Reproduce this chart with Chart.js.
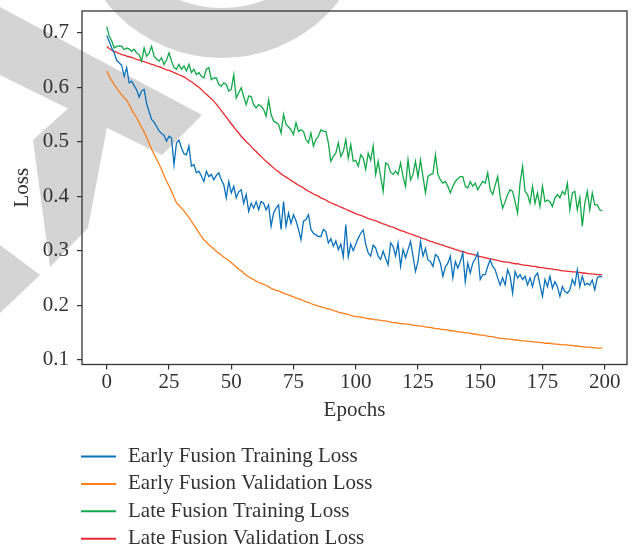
<!DOCTYPE html>
<html>
<head>
<meta charset="utf-8">
<script src="https://cdn.jsdelivr.net/npm/chart.js@4.4.1/dist/chart.umd.min.js"></script>
<style>
  html, body { margin: 0; padding: 0; background: #fff; }
  #wrap { position: relative; width: 635px; height: 545px; overflow: hidden; }
  #mark, #chart { position: absolute; left: 0; top: 0; }
</style>
</head>
<body>
<div id="wrap">
  <!-- grey watermark behind the chart -->
  <svg id="mark" width="635" height="545">
    <path fill="#d4d4d4" fill-rule="evenodd"
      d="M74 -90 a148 148 0 1 0 296 0 a148 148 0 1 0 -296 0 Z
         M104 -110 a118 118 0 1 0 236 0 a118 118 0 1 0 -236 0 Z"/>
    <polygon fill="#d4d4d4" points="0,7 202,115 162,155 0,75"/>
    <polygon fill="#d4d4d4" points="33,140 72,105 107,127 88,228 50,267"/>
    <polygon fill="#d4d4d4" points="0,245 40,275 0,313"/>
  </svg>
  <canvas id="chart" width="635" height="545"></canvas>
</div>
<script>
const epochs = Array.from({ length: 200 }, (_, i) => i);
const xTicks = [0, 25, 50, 75, 100, 125, 150, 175, 200];
const yTicks = [0.1, 0.2, 0.3, 0.4, 0.5, 0.6, 0.7];

const seriesNames = [
  'Early Fusion Training Loss',
  'Early Fusion Validation Loss',
  'Late Fusion Training Loss',
  'Late Fusion Validation Loss'
];

const earlyTrain = [
  0.695,0.684,0.672,0.663,0.649,0.645,0.640,0.620,0.636,0.608,
  0.611,0.603,0.595,0.582,0.593,0.596,0.570,0.555,0.541,0.536,
  0.528,0.520,0.515,0.512,0.501,0.510,0.507,0.458,0.498,0.503,
  0.489,0.478,0.476,0.492,0.455,0.458,0.443,0.446,0.437,0.427,
  0.446,0.436,0.440,0.430,0.438,0.443,0.430,0.421,0.397,0.427,
  0.406,0.418,0.397,0.408,0.412,0.387,0.403,0.372,0.387,0.378,
  0.390,0.375,0.390,0.387,0.375,0.384,0.345,0.369,0.378,0.384,
  0.339,0.390,0.345,0.369,0.350,0.366,0.355,0.339,0.320,0.354,
  0.357,0.366,0.339,0.332,0.329,0.326,0.326,0.339,0.335,0.314,
  0.322,0.308,0.318,0.302,0.312,0.289,0.348,0.289,0.312,0.300,
  0.312,0.323,0.332,0.338,0.312,0.296,0.290,0.310,0.305,0.290,
  0.284,0.299,0.286,0.274,0.314,0.308,0.290,0.314,0.271,0.302,
  0.287,0.302,0.317,0.290,0.262,0.280,0.317,0.290,0.304,0.283,
  0.280,0.271,0.293,0.289,0.277,0.253,0.270,0.277,0.290,0.250,
  0.280,0.268,0.280,0.296,0.243,0.277,0.259,0.277,0.285,0.296,
  0.247,0.256,0.256,0.271,0.283,0.271,0.265,0.250,0.237,0.250,
  0.237,0.265,0.253,0.222,0.262,0.250,0.256,0.247,0.253,0.237,
  0.250,0.234,0.253,0.259,0.237,0.216,0.247,0.234,0.253,0.231,
  0.243,0.234,0.216,0.234,0.225,0.222,0.228,0.247,0.237,0.265,
  0.234,0.253,0.237,0.240,0.237,0.246,0.228,0.250,0.253,0.252
];

const earlyVal = [
  0.630,0.620,0.612,0.605,0.598,0.592,0.586,0.581,0.576,0.568,
  0.559,0.551,0.544,0.535,0.526,0.518,0.508,0.497,0.486,0.477,
  0.468,0.459,0.449,0.438,0.428,0.419,0.409,0.398,0.388,0.383,
  0.378,0.373,0.367,0.361,0.354,0.347,0.340,0.333,0.326,0.320,
  0.316,0.311,0.307,0.303,0.299,0.295,0.292,0.288,0.285,0.282,
  0.278,0.274,0.270,0.266,0.263,0.259,0.255,0.252,0.249,0.247,
  0.244,0.242,0.240,0.238,0.236,0.234,0.231,0.229,0.227,0.226,
  0.224,0.222,0.220,0.219,0.217,0.215,0.213,0.212,0.210,0.208,
  0.206,0.205,0.203,0.201,0.200,0.198,0.197,0.196,0.194,0.193,
  0.192,0.190,0.189,0.187,0.186,0.185,0.184,0.183,0.181,0.180,
  0.179,0.179,0.178,0.177,0.176,0.175,0.175,0.174,0.173,0.173,
  0.172,0.171,0.171,0.170,0.169,0.168,0.168,0.167,0.166,0.166,
  0.165,0.165,0.164,0.163,0.163,0.162,0.162,0.161,0.160,0.159,
  0.159,0.158,0.157,0.157,0.156,0.155,0.155,0.154,0.153,0.153,
  0.152,0.151,0.151,0.150,0.149,0.149,0.148,0.147,0.147,0.146,
  0.145,0.145,0.144,0.143,0.142,0.142,0.141,0.140,0.139,0.139,
  0.138,0.138,0.137,0.137,0.136,0.136,0.135,0.135,0.134,0.134,
  0.133,0.133,0.132,0.132,0.131,0.131,0.130,0.130,0.130,0.129,
  0.129,0.128,0.128,0.127,0.127,0.127,0.126,0.126,0.125,0.125,
  0.124,0.124,0.123,0.123,0.123,0.122,0.122,0.121,0.121,0.121
];

const lateTrain = [
  0.711,0.694,0.685,0.672,0.675,0.676,0.675,0.669,0.672,0.670,
  0.666,0.670,0.663,0.660,0.648,0.672,0.657,0.662,0.675,0.657,
  0.652,0.648,0.654,0.642,0.650,0.663,0.648,0.636,0.633,0.642,
  0.633,0.639,0.630,0.642,0.627,0.633,0.623,0.627,0.620,0.617,
  0.633,0.636,0.614,0.617,0.617,0.605,0.602,0.608,0.605,0.593,
  0.596,0.623,0.580,0.590,0.599,0.583,0.568,0.584,0.583,0.568,
  0.562,0.568,0.565,0.559,0.547,0.577,0.550,0.538,0.535,0.532,
  0.516,0.550,0.532,0.527,0.522,0.513,0.535,0.519,0.522,0.519,
  0.504,0.498,0.516,0.492,0.504,0.510,0.522,0.519,0.519,0.498,
  0.464,0.473,0.479,0.498,0.473,0.482,0.504,0.470,0.495,0.464,
  0.466,0.455,0.476,0.470,0.449,0.479,0.466,0.492,0.440,0.464,
  0.436,0.409,0.461,0.458,0.444,0.440,0.446,0.440,0.461,0.436,
  0.418,0.467,0.430,0.440,0.464,0.435,0.467,0.436,0.406,0.436,
  0.440,0.441,0.476,0.440,0.430,0.424,0.427,0.418,0.406,0.418,
  0.427,0.432,0.436,0.436,0.418,0.415,0.427,0.418,0.424,0.412,
  0.420,0.427,0.424,0.443,0.412,0.403,0.420,0.436,0.400,0.378,
  0.390,0.403,0.412,0.409,0.390,0.369,0.424,0.455,0.409,0.403,
  0.387,0.418,0.387,0.406,0.381,0.418,0.390,0.393,0.390,0.381,
  0.397,0.403,0.397,0.409,0.403,0.424,0.375,0.406,0.409,0.375,
  0.397,0.345,0.387,0.409,0.375,0.406,0.384,0.384,0.375,0.373
];

const lateVal = [
  0.675,0.671,0.668,0.666,0.664,0.662,0.660,0.659,0.657,0.656,
  0.655,0.653,0.651,0.650,0.648,0.647,0.645,0.644,0.642,0.641,
  0.639,0.638,0.636,0.634,0.632,0.631,0.629,0.627,0.625,0.623,
  0.621,0.619,0.616,0.613,0.610,0.607,0.603,0.600,0.596,0.591,
  0.587,0.583,0.579,0.574,0.569,0.563,0.557,0.551,0.545,0.539,
  0.533,0.527,0.521,0.516,0.510,0.505,0.500,0.496,0.491,0.486,
  0.482,0.477,0.473,0.468,0.464,0.460,0.456,0.452,0.448,0.445,
  0.441,0.438,0.435,0.432,0.429,0.426,0.423,0.420,0.418,0.415,
  0.412,0.409,0.407,0.404,0.402,0.400,0.397,0.395,0.393,0.390,
  0.388,0.386,0.384,0.382,0.380,0.378,0.376,0.374,0.372,0.370,
  0.368,0.366,0.365,0.363,0.361,0.359,0.358,0.356,0.355,0.353,
  0.351,0.349,0.348,0.346,0.344,0.343,0.341,0.339,0.337,0.336,
  0.334,0.332,0.331,0.329,0.327,0.326,0.324,0.322,0.321,0.319,
  0.317,0.316,0.314,0.313,0.311,0.310,0.308,0.307,0.305,0.304,
  0.302,0.301,0.299,0.298,0.297,0.295,0.294,0.293,0.292,0.290,
  0.289,0.288,0.287,0.286,0.285,0.284,0.283,0.282,0.281,0.280,
  0.279,0.279,0.278,0.277,0.276,0.276,0.275,0.274,0.273,0.273,
  0.272,0.271,0.271,0.270,0.269,0.269,0.268,0.267,0.267,0.266,
  0.265,0.265,0.264,0.263,0.263,0.262,0.262,0.261,0.261,0.260,
  0.260,0.259,0.259,0.258,0.258,0.257,0.257,0.256,0.256,0.256
];

const seriesValues = [earlyTrain, earlyVal, lateTrain, lateVal];
const seriesColors = ['#0b72ba', '#ff7f1a', '#12a84a', '#ea2a30'];

const FONT = '"Liberation Serif", "DejaVu Serif", serif';
const INK = '#333333';

Chart.defaults.font.family = FONT;
Chart.defaults.font.size = 21;
Chart.defaults.color = INK;

// box around the plot area, like matplotlib spines
const frame = {
  id: 'frame',
  afterDraw(chart) {
    const { ctx, chartArea: a } = chart;
    ctx.save();
    ctx.strokeStyle = INK;
    ctx.lineWidth = 1.3;
    ctx.strokeRect(a.left, a.top, a.right - a.left, a.bottom - a.top);
    ctx.restore();
  }
};

// vertical legend under the axes
const stackedLegend = {
  id: 'stackedLegend',
  afterDraw(chart) {
    const ctx = chart.ctx;
    ctx.save();
    ctx.font = '21px ' + FONT;
    ctx.textBaseline = 'middle';
    chart.data.datasets.forEach((ds, i) => {
      const y = 456.5 + i * 27.4;
      ctx.strokeStyle = ds.borderColor;
      ctx.lineWidth = 2;
      ctx.beginPath();
      ctx.moveTo(81, y);
      ctx.lineTo(116, y);
      ctx.stroke();
      ctx.fillStyle = INK;
      ctx.fillText(ds.label, 128, y);
    });
    ctx.restore();
  }
};

const ctx = document.getElementById('chart').getContext('2d');

new Chart(ctx, {
  type: 'line',
  data: {
    datasets: seriesNames.map((name, i) => ({
      label: name,
      data: epochs.map((e, j) => ({ x: e, y: seriesValues[i][j] })),
      borderColor: seriesColors[i],
      backgroundColor: seriesColors[i],
      borderWidth: 1.3,
      pointRadius: 0,
      tension: 0,
      fill: false
    }))
  },
  options: {
    responsive: false,
    animation: false,
    layout: { padding: { left: 0, top: 11, right: 8, bottom: 122 } },
    plugins: {
      legend: { display: false },
      tooltip: { enabled: false }
    },
    scales: {
      x: {
        type: 'linear',
        min: -9.95,
        max: 208.95,
        afterBuildTicks: (scale) => { scale.ticks = xTicks.map(v => ({ value: v })); },
        afterFit: (scale) => {
          scale.height = 58.5;
          scale.paddingLeft = 0;
          scale.paddingRight = 0;
        },
        ticks: { padding: 0, maxRotation: 0, autoSkip: false, callback: (v) => String(v) },
        grid: { drawOnChartArea: false, drawTicks: true, tickLength: 5, color: INK, lineWidth: 1.2 },
        border: { display: false },
        title: { display: true, text: 'Epochs', padding: { top: 0, bottom: 0 } }
      },
      y: {
        min: 0.091,
        max: 0.74,
        afterBuildTicks: (scale) => { scale.ticks = yTicks.map(v => ({ value: v })); },
        afterFit: (scale) => {
          scale.width = 82;
          scale.paddingTop = 0;
          scale.paddingBottom = 0;
        },
        ticks: { padding: 8, autoSkip: false, callback: (v) => v.toFixed(1) },
        grid: { drawOnChartArea: false, drawTicks: true, tickLength: 5, color: INK, lineWidth: 1.2 },
        border: { display: false },
        title: { display: true, text: 'Loss', padding: { top: 10, bottom: 0 } }
      }
    }
  },
  plugins: [frame, stackedLegend]
});
</script>
</body>
</html>
